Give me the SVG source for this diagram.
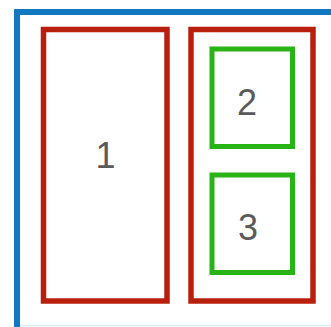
<svg xmlns="http://www.w3.org/2000/svg" width="331" height="327" viewBox="0 0 331 327">
<style>
.outer{fill:none;stroke:#0f78be;stroke-width:6}
.red{fill:none;stroke:#b81f0c;stroke-width:5.5}
.green{fill:none;stroke:#28b414;stroke-width:5}
.lbl{font-family:"Liberation Sans",Arial,sans-serif;font-size:36px;fill:#5a5a5a;text-anchor:middle}
</style>
<rect width="331" height="327" fill="#ffffff"/>
<line x1="17" y1="325.5" x2="331" y2="325.5" stroke="#d6ecf8" stroke-width="1.5"/>
<g id="outer"><rect class="outer" x="17" y="12" width="322" height="322"/></g>
<g id="node1"><rect class="red" x="43.5" y="29.5" width="123.5" height="271.5"/><text class="lbl" x="105.5" y="168">1</text></g>
<g id="group2"><rect class="red" x="191" y="29.5" width="122" height="271.5"/></g>
<g id="node2"><rect class="green" x="212" y="49" width="80.5" height="97.5"/><text class="lbl" x="247" y="115">2</text></g>
<g id="node3"><rect class="green" x="212" y="175" width="80.5" height="97.5"/><text class="lbl" x="248" y="240">3</text></g>
<g id="connectors"></g>
</svg>
